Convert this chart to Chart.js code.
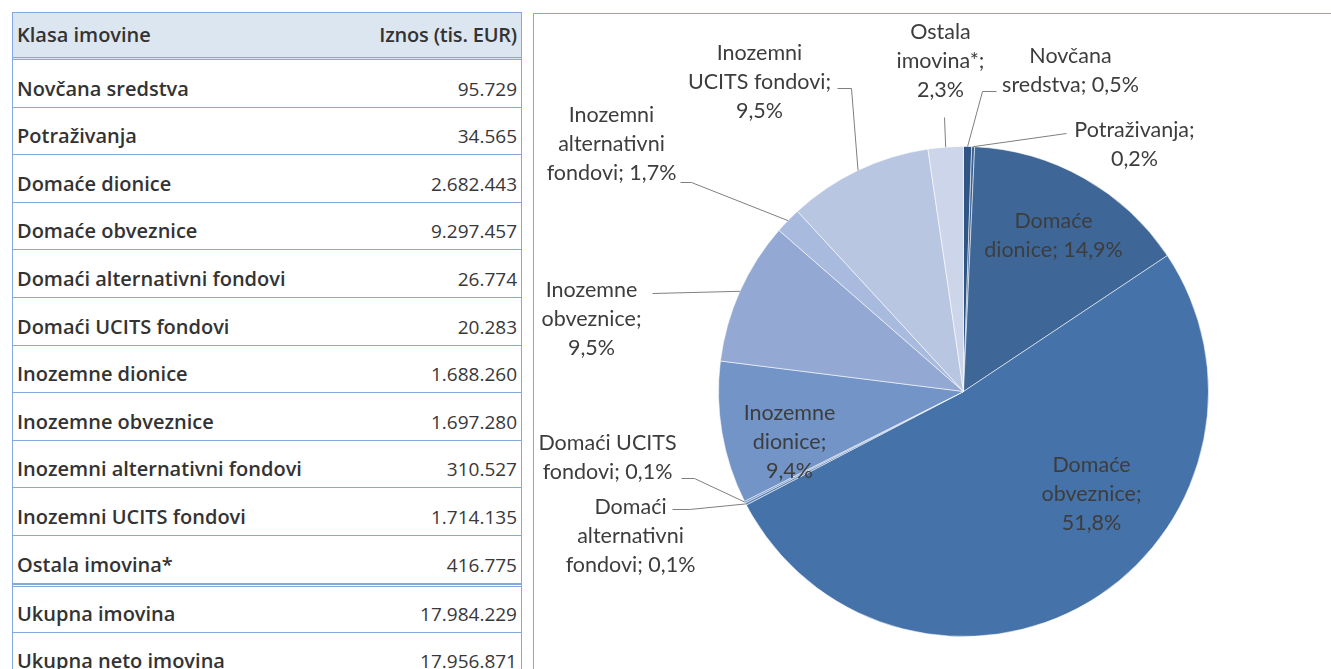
<!DOCTYPE html>
<html>
<head>
<meta charset="utf-8">
<script src="https://cdn.jsdelivr.net/npm/chart.js@4"></script>
<style>
  html,body{margin:0;padding:0;background:#fff;}
  body{width:1331px;height:669px;overflow:hidden;position:relative;font-family:"Open Sans",Lato,sans-serif;color:#333;}
  #tbl{position:absolute;left:12px;top:12px;width:510px;border-left:1px solid #85a9dc;border-right:1px solid #85a9dc;box-sizing:border-box;}
  .row{display:flex;justify-content:space-between;align-items:flex-end;box-sizing:border-box;height:47.6px;padding:0 4px 5px 4px;border-bottom:1px solid #85a9dc;font-weight:600;font-size:20px;line-height:26px;}
  .row span:last-child{font-weight:400;font-size:19px;color:#383838;}
  .hdr{height:48px;align-items:center;padding-bottom:0;background:#dce6f1;border-top:1px solid #85a9dc;border-bottom:3px double #85a9dc;}
  .hdr span:last-child{font-weight:600;font-size:20px;color:#333;letter-spacing:-0.2px;}
  .tot{border-top:3px double #85a9dc;height:49px;}
  #panel{position:absolute;left:533px;top:13px;width:800px;height:660px;border-left:1px solid #85a9dc;border-top:1px solid #85a9dc;}
  #wrap{position:absolute;left:534px;top:14px;width:797px;height:655px;}
</style>
</head>
<body>
<div id="tbl"></div>
<div id="panel"></div>
<div id="wrap"><canvas id="pie"></canvas></div>
<script>
// table data (tis. EUR)
const categories=['Novčana sredstva','Potraživanja','Domaće dionice','Domaće obveznice','Domaći alternativni fondovi','Domaći UCITS fondovi','Inozemne dionice','Inozemne obveznice','Inozemni alternativni fondovi','Inozemni UCITS fondovi','Ostala imovina*'];
const amounts=[95729,34565,2682443,9297457,26774,20283,1688260,1697280,310527,1714135,416775];
const totalLabels=['Ukupna imovina','Ukupna neto imovina'];
const totalAmounts=[17984229,17956871];
// percentages as printed on the pie
const shares=['0,5','0,2','14,9','51,8','0,1','0,1','9,4','9,5','1,7','9,5','2,3'];
const pieLabels=[
  ['Novčana','sredstva; '+shares[0]+'%'],
  ['Potraživanja;',shares[1]+'%'],
  ['Domaće','dionice; '+shares[2]+'%'],
  ['Domaće','obveznice;',shares[3]+'%'],
  ['Domaći','alternativni','fondovi; '+shares[4]+'%'],
  ['Domaći UCITS','fondovi; '+shares[5]+'%'],
  ['Inozemne','dionice;',shares[6]+'%'],
  ['Inozemne','obveznice;',shares[7]+'%'],
  ['Inozemni','alternativni','fondovi; '+shares[8]+'%'],
  ['Inozemni','UCITS fondovi;',shares[9]+'%'],
  ['Ostala','imovina*;',shares[10]+'%']
];
const colors=['#2f5585','#3b6192','#3e6797','#4572a8','#5a80b6','#6489bf','#7394c7','#93a9d3','#a8badd','#b9c6e2','#ccd5e9'];

// label placement relative to pie centre; leader = elbow points relative to centre
const lay=[
  {dx:107,dy:-321,leader:[[19,-300],[33,-300]]},
  {dx:171,dy:-247,leader:[[103,-258]]},
  {dx:90,dy:-156},
  {dx:128,dy:103},
  {dx:-333,dy:145,leader:[[-274,118],[-291,118]]},
  {dx:-356,dy:66,leader:[[-269,87],[-282,87]]},
  {dx:-174,dy:51},
  {dx:-372,dy:-72,leader:[[-311,-98]]},
  {dx:-352,dy:-247,leader:[[-272,-209],[-283,-209]]},
  {dx:-204,dy:-309,leader:[[-112,-303],[-126,-303]]},
  {dx:-23,dy:-330,leader:[[-19,-274]]}
];

function fmt(n){ return String(n).replace(/\B(?=(\d{3})+(?!\d))/g,'.'); }

const tbl=document.getElementById('tbl');
let h='<div class="row hdr"><span>Klasa imovine</span><span>Iznos (tis. EUR)</span></div>';
categories.forEach((c,i)=>{ h+='<div class="row"><span>'+c+'</span><span>'+fmt(amounts[i])+'</span></div>'; });
totalLabels.forEach((c,i)=>{ h+='<div class="row'+(i===0?' tot':'')+'"><span>'+c+'</span><span>'+fmt(totalAmounts[i])+'</span></div>'; });
tbl.innerHTML=h;

const labelPlugin={
  id:'pieLabels',
  afterDatasetsDraw(chart){
    const ctx=chart.ctx; const meta=chart.getDatasetMeta(0);
    ctx.save();
    ctx.font='21.5px Lato, "Open Sans", sans-serif';
    ctx.fillStyle='#3d3d3d'; ctx.textAlign='center'; ctx.textBaseline='middle';
    ctx.strokeStyle='#7f7f7f'; ctx.lineWidth=1;
    meta.data.forEach((arc,i)=>{
      const p=arc.getProps(['x','y','startAngle','endAngle','outerRadius'],true);
      const L=lay[i]; const cx=p.x, cy=p.y;
      if(L.leader){
        const mid=(p.startAngle+p.endAngle)/2;
        ctx.beginPath();
        ctx.moveTo(cx+Math.cos(mid)*p.outerRadius, cy+Math.sin(mid)*p.outerRadius);
        L.leader.forEach(q=>ctx.lineTo(cx+q[0],cy+q[1]));
        ctx.stroke();
      }
      const lines=pieLabels[i]; const lh=29;
      lines.forEach((t,k)=>{ ctx.fillText(t, cx+L.dx, cy+L.dy+(k-(lines.length-1)/2)*lh); });
    });
    ctx.restore();
  }
};

new Chart(document.getElementById('pie'),{
  type:'pie',
  data:{labels:categories,datasets:[{data:amounts,backgroundColor:colors,borderColor:'rgba(255,255,255,0.55)',borderWidth:1,hoverOffset:0}]},
  options:{responsive:true,maintainAspectRatio:false,animation:false,
    layout:{padding:{left:184,right:122,top:132,bottom:32}},
    plugins:{legend:{display:false},tooltip:{enabled:false}}},
  plugins:[labelPlugin]
});
</script>
</body>
</html>
